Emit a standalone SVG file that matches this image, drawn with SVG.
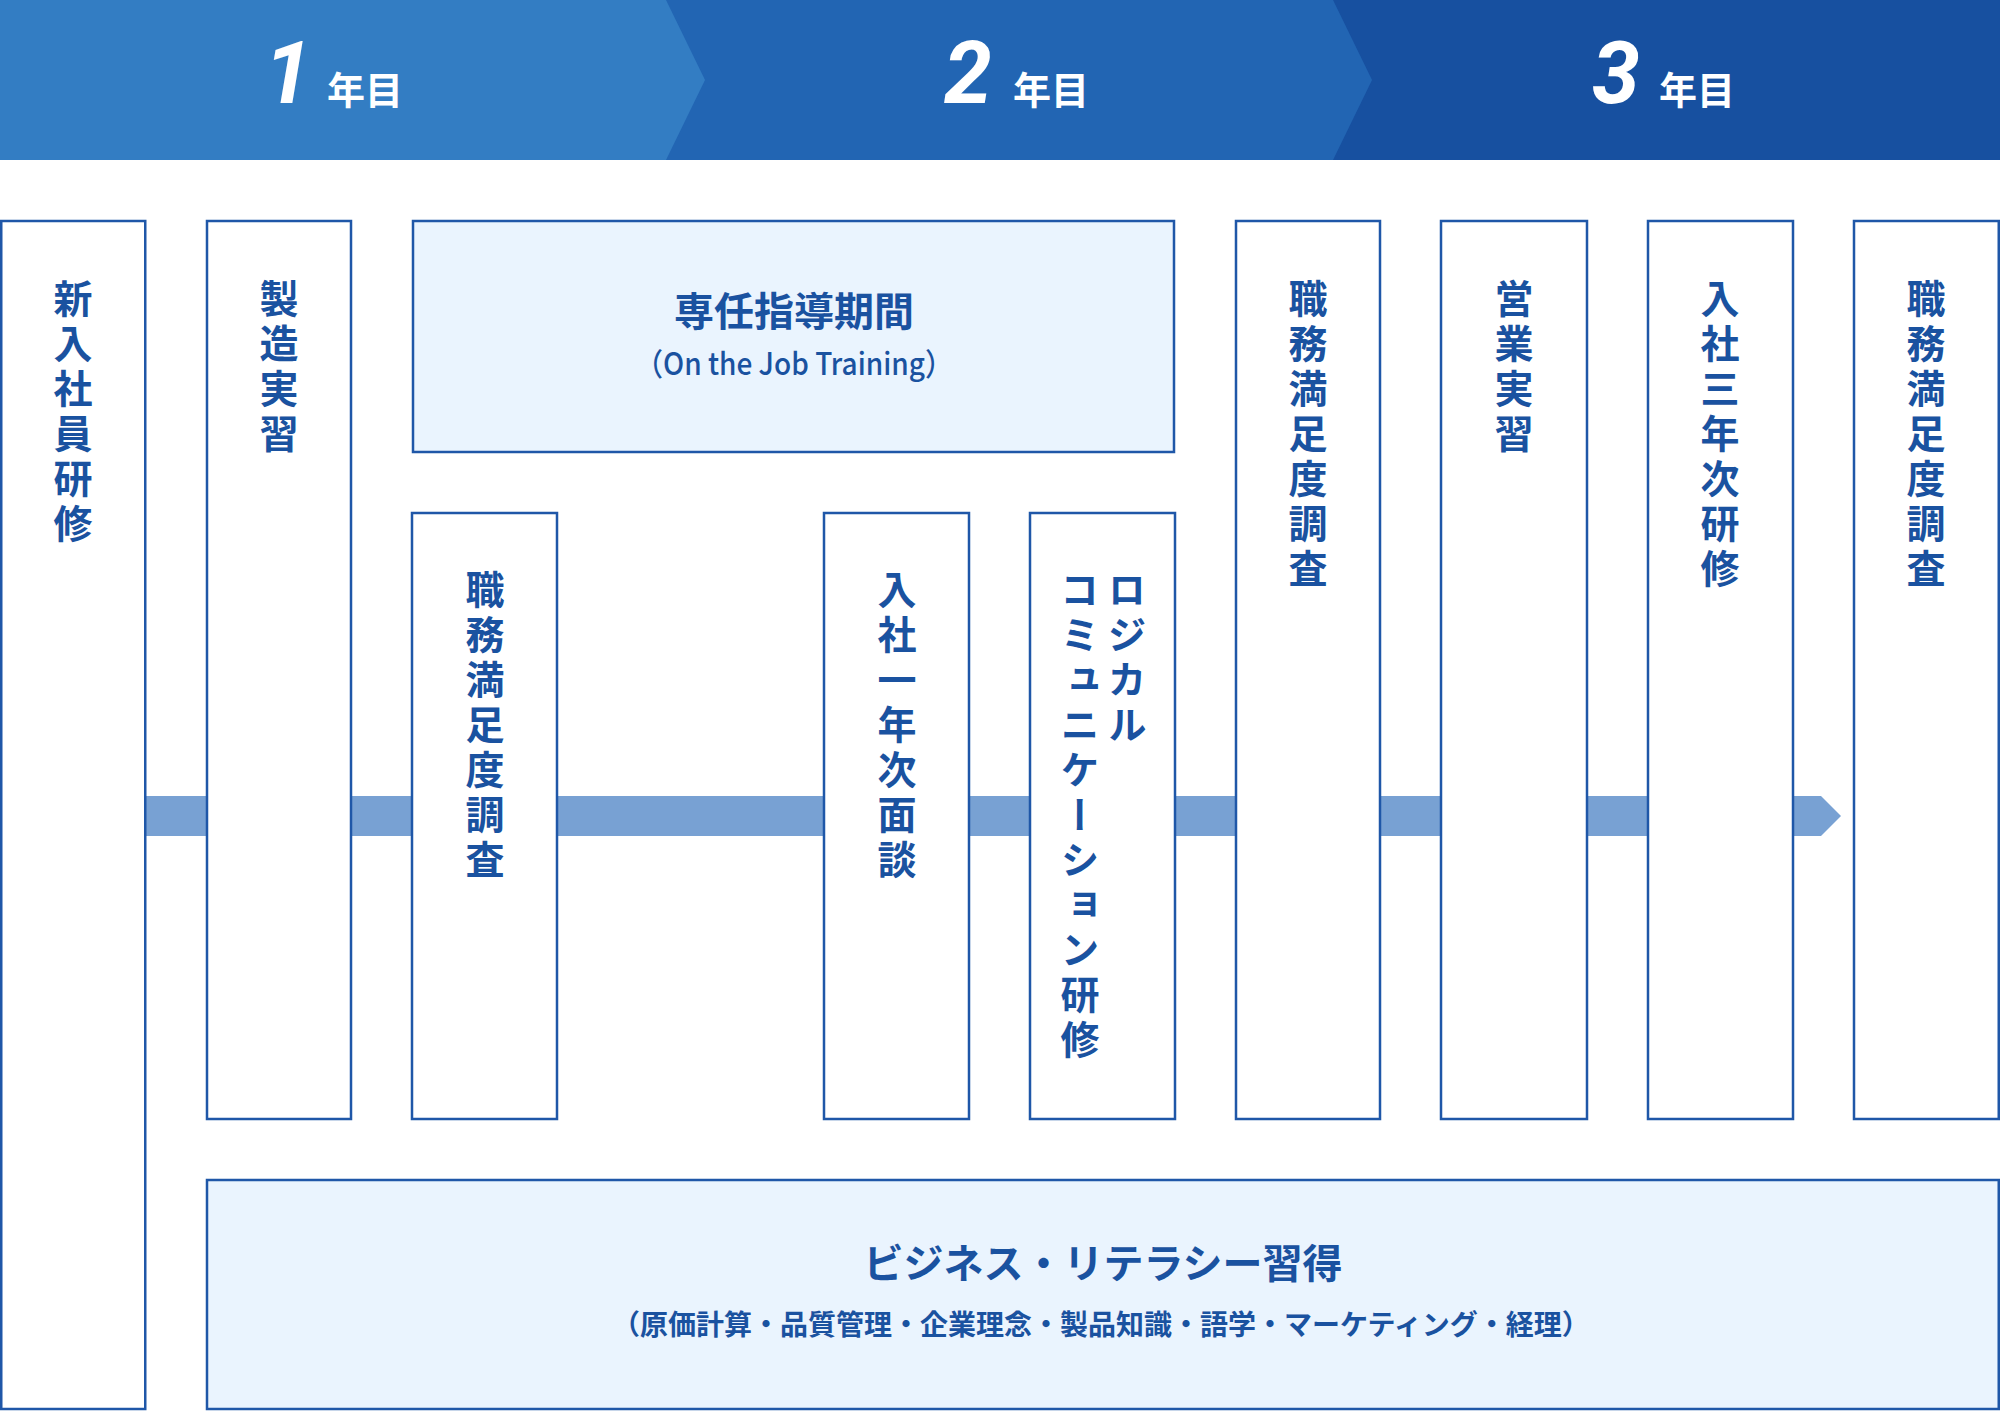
<svg xmlns="http://www.w3.org/2000/svg" width="2000" height="1412" viewBox="0 0 2000 1412">
<defs>
<style>
.box{fill:#ffffff;stroke:#1f57a8;stroke-width:2.5}
.lbox{fill:#eaf4fe;stroke:#1f57a8;stroke-width:2.5}
.vt{font-family:"Noto Sans CJK JP","Noto Sans",sans-serif;font-weight:700;font-size:39px;fill:#1a52a0;writing-mode:vertical-rl;text-anchor:start;letter-spacing:6px}
.ht{font-family:"Noto Sans CJK JP","Noto Sans",sans-serif;font-weight:700;fill:#1a52a0;text-anchor:middle}
.sub{font-weight:500}
.num{font-family:Roboto,"Liberation Sans",sans-serif;font-weight:700;font-style:italic;font-size:86px;fill:#ffffff}
.yr{font-family:"Noto Sans CJK JP",sans-serif;font-weight:700;font-size:38px;fill:#ffffff}
</style>
</defs>
<rect width="2000" height="1412" fill="#ffffff"/>
<g id="header">
<rect x="0" y="0" width="2000" height="160" fill="#1750a0"/>
<polygon points="0,0 1333,0 1372,80 1333,160 0,160" fill="#2265b3"/>
<polygon points="0,0 666,0 705,80 666,160 0,160" fill="#337dc3"/>
<text class="num" x="264" y="103">1</text>
<text class="yr" x="327" y="104">年目</text>
<text class="num" x="944" y="103">2</text>
<text class="yr" x="1013" y="104">年目</text>
<text class="num" x="1592" y="103">3</text>
<text class="yr" x="1659" y="104">年目</text>
</g>
<g id="connectors">
<polygon points="140,796 1821,796 1841,816 1821,836 140,836" fill="#78a1d3"/>
</g>
<g id="n1"><rect class="box" x="1.25" y="221" width="144" height="1188"/><text class="vt" x="73" y="279">新入社員研修</text></g>
<g id="n2"><rect class="box" x="207" y="221" width="144" height="898"/><text class="vt" x="279" y="279">製造実習</text></g>
<g id="n3"><rect class="lbox" x="413" y="221" width="761" height="231"/>
<text class="ht" x="794" y="326" font-size="40">専任指導期間</text>
<text class="ht sub" x="794" y="375" font-size="31" textLength="318" lengthAdjust="spacingAndGlyphs">（On the Job Training）</text></g>
<g id="n4"><rect class="box" x="412" y="513" width="145" height="606"/><text class="vt" x="485" y="570">職務満足度調査</text></g>
<g id="n5"><rect class="box" x="824" y="513" width="145" height="606"/><text class="vt" x="897" y="570">入社一年次面談</text></g>
<g id="n6"><rect class="box" x="1030" y="513" width="145" height="606"/><text class="vt" x="1127" y="570">ロジカル</text><text class="vt" x="1080" y="570">コミュニケーション研修</text></g>
<g id="n7"><rect class="box" x="1236" y="221" width="144" height="898"/><text class="vt" x="1308" y="279">職務満足度調査</text></g>
<g id="n8"><rect class="box" x="1441" y="221" width="146" height="898"/><text class="vt" x="1514" y="279">営業実習</text></g>
<g id="n9"><rect class="box" x="1648" y="221" width="145" height="898"/><text class="vt" x="1720" y="279">入社三年次研修</text></g>
<g id="n10"><rect class="box" x="1854" y="221" width="144.75" height="898"/><text class="vt" x="1926" y="279">職務満足度調査</text></g>
<g id="n11"><rect class="lbox" x="207" y="1180" width="1791.75" height="229"/>
<text class="ht" x="1103" y="1278" font-size="40">ビジネス・リテラシー習得</text>
<text class="ht" x="1101" y="1335" font-size="28">（原価計算・品質管理・企業理念・製品知識・語学・マーケティング・経理）</text></g>
</svg>
